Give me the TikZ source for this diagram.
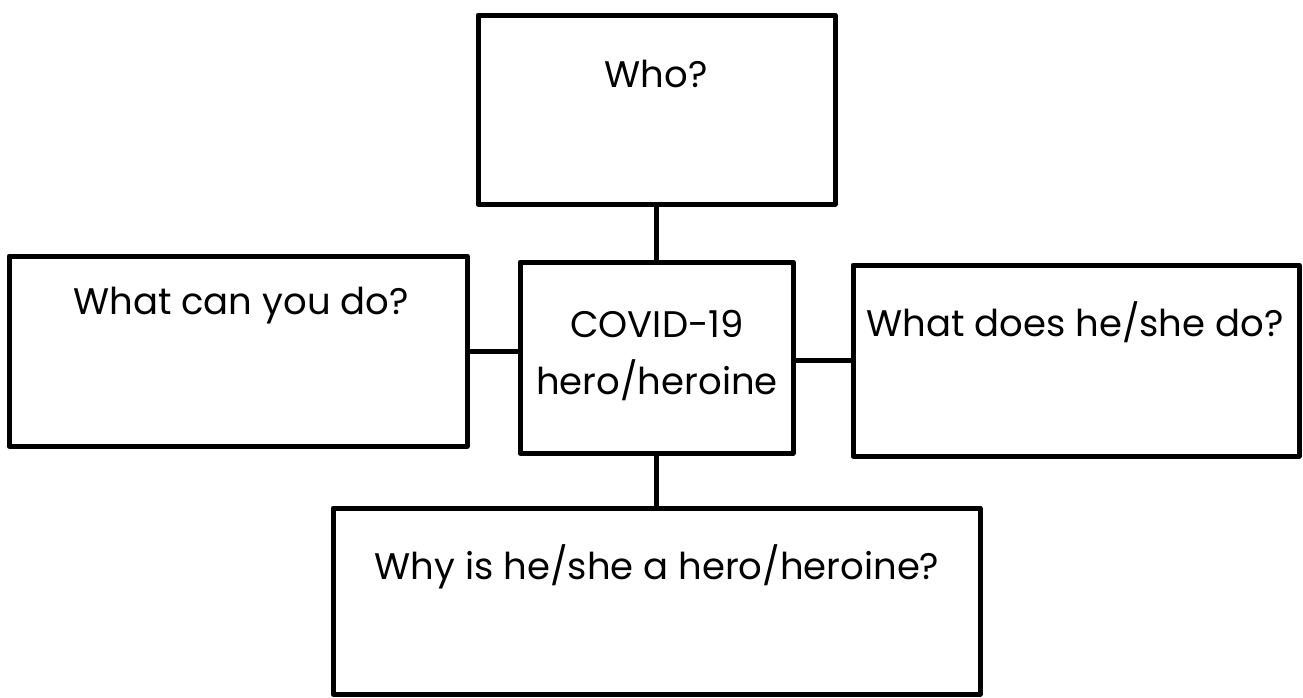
\documentclass[tikz,border=0pt]{standalone}
\usepackage{fontspec}
\setmainfont{Poppins}
\begin{document}
\begin{tikzpicture}[x=1pt,y=-1pt,
  box/.style={draw=black,line width=5pt,line join=round,fill=none,inner sep=0pt},
  lbl/.style={font=\fontsize{37}{57}\selectfont,inner sep=0pt,align=center},
  link/.style={draw=black,line width=5pt}]
\useasboundingbox (0,0) rectangle (1303,697);
\node[box,minimum width=357pt,minimum height=189pt] (who) at (656.5,109.5) {};
\node[box,minimum width=458pt,minimum height=190pt] (lbox) at (238,351) {};
\node[box,minimum width=273pt,minimum height=191pt] (cbox) at (656.5,357.5) {};
\node[box,minimum width=446pt,minimum height=191pt] (rbox) at (1076,360.5) {};
\node[box,minimum width=647pt,minimum height=186pt] (bbox) at (656.5,601) {};
\node[lbl] (twho) at (656,74) {Who?};
\node[lbl] (tl) at (241,306) {What can you do?};
\node[lbl] (tc) at (657,356) {COVID-19\\hero/heroine};
\node[lbl] (tr) at (1075,322) {What does he/she do?};
\node[lbl] (tb) at (657,567) {Why is he/she a hero/heroine?};
\draw[link] (who.south) -- (who.south |- cbox.north);
\draw[link] (lbox.east) -- (lbox.east -| cbox.west);
\draw[link] (rbox.west) -- (rbox.west -| cbox.east);
\draw[link] (cbox.south) -- (cbox.south |- bbox.north);
\end{tikzpicture}
\end{document}
